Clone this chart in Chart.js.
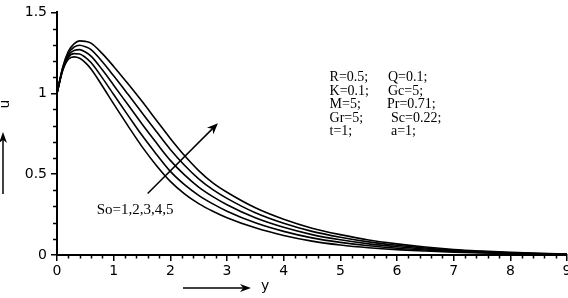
<!DOCTYPE html>
<html>
<head>
<meta charset="utf-8">
<script src="https://cdn.jsdelivr.net/npm/chart.js@4.4.1/dist/chart.umd.min.js"></script>
<style>
  html, body { margin: 0; padding: 0; background: #fff; }
  #wrap { width: 568px; height: 298px; position: relative; }
</style>
</head>
<body>
<div id="wrap"><canvas id="chart"></canvas></div>
<script>
// distance y (x-axis)
const yPos = [0, 0.1, 0.2, 0.3, 0.4, 0.5, 0.6, 0.8, 1.0, 1.25, 1.5, 1.75, 2.0, 2.25, 2.5, 2.75, 3.0, 3.5, 4.0, 4.5, 5.0, 5.5, 6.0, 6.5, 7.0, 7.5, 8.0, 8.5, 9.0];

// velocity u for So = 1..5
const uSo1 = [1, 1.140, 1.211, 1.225, 1.216, 1.189, 1.150, 1.045, 0.934, 0.800, 0.670, 0.555, 0.455, 0.378, 0.318, 0.271, 0.231, 0.168, 0.121, 0.086, 0.062, 0.045, 0.033, 0.025, 0.018, 0.012, 0.008, 0.006, 0.005];
const uSo2 = [1, 1.145, 1.223, 1.245, 1.243, 1.222, 1.190, 1.095, 0.992, 0.865, 0.740, 0.625, 0.517, 0.435, 0.369, 0.316, 0.271, 0.199, 0.146, 0.106, 0.078, 0.057, 0.042, 0.031, 0.022, 0.015, 0.010, 0.007, 0.005];
const uSo3 = [1, 1.150, 1.235, 1.265, 1.270, 1.255, 1.230, 1.145, 1.050, 0.930, 0.810, 0.695, 0.585, 0.495, 0.420, 0.361, 0.311, 0.230, 0.171, 0.126, 0.094, 0.069, 0.051, 0.037, 0.026, 0.018, 0.012, 0.008, 0.005];
const uSo4 = [1, 1.155, 1.247, 1.285, 1.297, 1.288, 1.270, 1.195, 1.108, 0.995, 0.880, 0.765, 0.653, 0.555, 0.471, 0.404, 0.350, 0.261, 0.196, 0.146, 0.110, 0.081, 0.060, 0.043, 0.030, 0.021, 0.014, 0.009, 0.005];
const uSo5 = [1, 1.160, 1.259, 1.305, 1.324, 1.321, 1.310, 1.245, 1.166, 1.060, 0.950, 0.835, 0.721, 0.615, 0.522, 0.446, 0.388, 0.292, 0.221, 0.166, 0.126, 0.093, 0.069, 0.049, 0.034, 0.024, 0.016, 0.010, 0.005];

const seriesNames = ['So=1', 'So=2', 'So=3', 'So=4', 'So=5'];
const yTickLabels = ['0', '0.5', '1', '1.5'];
const paramLeft = ['R=0.5;', 'K=0.1;', 'M=5;', 'Gr=5;', 't=1;'];
const paramRight = ['Q=0.1;', 'Gc=5;', 'Pr=0.71;', 'Sc=0.22;', 'a=1;'];
const soLabel = 'So=1,2,3,4,5';

const allSeries = [uSo1, uSo2, uSo3, uSo4, uSo5];

const sans = "'DejaVu Sans', sans-serif";
const serif = "'Liberation Serif', 'Times New Roman', serif";

function arrow(ctx, x0, y0, x1, y1, head, half) {
    const a = Math.atan2(y1 - y0, x1 - x0);
    ctx.beginPath();
    ctx.moveTo(x0, y0);
    ctx.lineTo(x1 - Math.cos(a) * head * 0.6, y1 - Math.sin(a) * head * 0.6);
    ctx.stroke();
    ctx.beginPath();
    ctx.moveTo(x1, y1);
    ctx.lineTo(x1 - Math.cos(a) * head - Math.sin(a) * half, y1 - Math.sin(a) * head + Math.cos(a) * half);
    ctx.lineTo(x1 - Math.cos(a) * head * 0.7, y1 - Math.sin(a) * head * 0.7);
    ctx.lineTo(x1 - Math.cos(a) * head + Math.sin(a) * half, y1 - Math.sin(a) * head - Math.cos(a) * half);
    ctx.closePath();
    ctx.fill();
}

const overlay = {
    id: 'overlay',
    afterDraw(chart) {
        const { ctx } = chart;
        const x = chart.scales.x, y = chart.scales.y;
        ctx.save();
        ctx.strokeStyle = '#000';
        ctx.fillStyle = '#000';

        // minor ticks
        ctx.lineWidth = 1.5;
        ctx.beginPath();
        for (let i = 0; i <= 45; i++) {
            if (i % 5 === 0) continue;
            const px = Math.round(x.getPixelForValue(i / 5)) + 0.5;
            ctx.moveTo(px, y.bottom);
            ctx.lineTo(px, y.bottom + 3.5);
        }
        for (let i = 0; i <= 15; i++) {
            if (i % 5 === 0) continue;
            const py = Math.round(y.getPixelForValue(i / 10)) + 0.5;
            ctx.moveTo(x.left, py);
            ctx.lineTo(x.left - 4, py);
        }
        ctx.stroke();

        // So arrow
        ctx.lineWidth = 1.5;
        arrow(ctx, x.getPixelForValue(1.6), y.getPixelForValue(0.38),
            x.getPixelForValue(2.84), y.getPixelForValue(0.815), 11, 4.5);

        ctx.font = '15px ' + serif;
        ctx.textBaseline = 'alphabetic';
        ctx.textAlign = 'left';
        ctx.fillText(soLabel, x.getPixelForValue(0.70), y.getPixelForValue(0.255));

        // parameter block
        ctx.font = '14px ' + serif;
        const leftX = x.getPixelForValue(4.81);
        const rightXs = [388, 388, 387, 391, 391];
        for (let i = 0; i < paramLeft.length; i++) {
            const base = 81 + i * 13.5;
            ctx.fillText(paramLeft[i], leftX, base);
            ctx.fillText(paramRight[i], rightXs[i], base);
        }

        // axis titles with arrows
        ctx.font = '14px ' + sans;
        ctx.lineWidth = 1.5;
        arrow(ctx, 183, 288, 251, 288, 11, 4);
        ctx.fillText('y', 261, 290);

        arrow(ctx, 3, 194, 3, 132, 11, 4);
        ctx.save();
        ctx.translate(9, 104);
        ctx.rotate(-Math.PI / 2);
        ctx.textAlign = 'center';
        ctx.fillText('u', 0, 0);
        ctx.restore();

        ctx.restore();
    }
};

new Chart(document.getElementById('chart'), {
    type: 'line',
    data: {
        datasets: allSeries.map((s, i) => ({
            label: seriesNames[i],
            data: yPos.map((v, j) => ({ x: v, y: s[j] })),
            borderColor: '#000',
            borderWidth: 1.6,
            pointRadius: 0,
            fill: false,
            cubicInterpolationMode: 'monotone'
        }))
    },
    options: {
        responsive: true,
        maintainAspectRatio: false,
        animation: false,
        layout: { padding: { left: 0, right: 1, top: 12, bottom: 0 } },
        scales: {
            x: {
                type: 'linear',
                min: 0,
                max: 9,
                grid: { drawOnChartArea: false, color: '#000', lineWidth: 1.5, tickLength: 6 },
                border: { color: '#000', width: 2 },
                ticks: { stepSize: 1, color: '#000', padding: 2, font: { family: sans, size: 14 } },
                afterFit: s => { s.height = 43; s.paddingRight = 0; s.paddingLeft = 0; }
            },
            y: {
                min: 0,
                max: 1.5,
                grid: { drawOnChartArea: false, color: '#000', lineWidth: 1.5, tickLength: 6 },
                border: { color: '#000', width: 2 },
                ticks: {
                    stepSize: 0.5,
                    color: '#000',
                    padding: 4,
                    font: { family: sans, size: 14 },
                    callback: v => yTickLabels[Math.round(v * 2)]
                },
                afterFit: s => { s.width = 57; }
            }
        },
        plugins: {
            legend: { display: false },
            tooltip: { enabled: false }
        }
    },
    plugins: [overlay]
});
</script>
</body>
</html>
